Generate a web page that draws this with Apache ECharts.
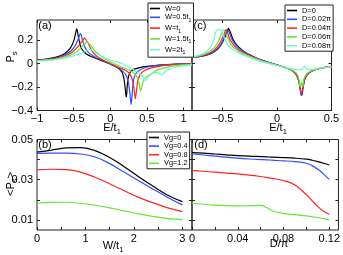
<!DOCTYPE html>
<html><head><meta charset="utf-8">
<script src="https://cdn.jsdelivr.net/npm/echarts@6/dist/echarts.min.js"></script>
<style>html,body{margin:0;padding:0;background:#fff}#c{width:343px;height:255px}</style>
</head><body><div id="c"></div>
<script>
// ---------- DATA ----------
// Panel (a): P_s vs E/t1 for several W
const namesA = ['W=0','W=0.5t_1','W=t_1','W=1.5t_1','W=2t_1'];
const a_W0 = [[-1,0.03],[-0.9,0.035],[-0.8,0.045],[-0.7,0.06],[-0.62,0.085],[-0.56,0.12],[-0.52,0.16],[-0.49,0.21],[-0.472,0.26],[-0.46,0.295],[-0.45,0.28],[-0.44,0.245],[-0.43,0.21],[-0.41,0.155],[-0.39,0.125],[-0.36,0.1],[-0.32,0.078],[-0.27,0.062],[-0.2,0.045],[-0.1,0.02],[0,-0.005],[0.07,-0.025],[0.12,-0.045],[0.16,-0.075],[0.185,-0.125],[0.2,-0.19],[0.212,-0.265],[0.22,-0.285],[0.23,-0.2],[0.245,-0.12],[0.27,-0.075],[0.32,-0.05],[0.4,-0.035],[0.5,-0.025],[0.7,-0.012],[0.9,-0.005],[1.115,0]];
const a_W05 = [[-1,0.028],[-0.9,0.032],[-0.8,0.04],[-0.7,0.055],[-0.6,0.08],[-0.53,0.11],[-0.48,0.15],[-0.45,0.19],[-0.425,0.23],[-0.408,0.255],[-0.395,0.24],[-0.38,0.2],[-0.36,0.16],[-0.33,0.12],[-0.3,0.095],[-0.25,0.07],[-0.18,0.045],[-0.1,0.025],[0,-0.005],[0.1,-0.035],[0.17,-0.065],[0.22,-0.105],[0.25,-0.17],[0.27,-0.27],[0.284,-0.35],[0.296,-0.28],[0.31,-0.17],[0.33,-0.11],[0.37,-0.07],[0.45,-0.04],[0.55,-0.025],[0.7,-0.013],[0.9,-0.006],[1.115,0]];
const a_W1 = [[-1,0.027],[-0.9,0.03],[-0.8,0.038],[-0.7,0.05],[-0.6,0.07],[-0.52,0.095],[-0.46,0.13],[-0.41,0.17],[-0.37,0.2],[-0.35,0.215],[-0.33,0.2],[-0.3,0.17],[-0.27,0.13],[-0.23,0.09],[-0.18,0.06],[-0.1,0.03],[0,0.0],[0.1,-0.03],[0.2,-0.055],[0.26,-0.085],[0.3,-0.135],[0.325,-0.22],[0.342,-0.3],[0.356,-0.24],[0.375,-0.15],[0.41,-0.09],[0.47,-0.06],[0.55,-0.04],[0.7,-0.02],[0.9,-0.008],[1.115,0]];
const a_W15 = [[-1,0.025],[-0.9,0.028],[-0.8,0.033],[-0.7,0.042],[-0.6,0.058],[-0.5,0.085],[-0.42,0.12],[-0.36,0.16],[-0.32,0.182],[-0.29,0.17],[-0.25,0.14],[-0.2,0.1],[-0.12,0.06],[-0.05,0.03],[0.05,0.0],[0.15,-0.03],[0.25,-0.055],[0.32,-0.08],[0.37,-0.12],[0.395,-0.18],[0.413,-0.235],[0.428,-0.21],[0.45,-0.15],[0.5,-0.11],[0.55,-0.095],[0.6,-0.07],[0.65,-0.052],[0.75,-0.035],[0.9,-0.018],[1.115,-0.005]];
const a_W2 = [[-1,0.022],[-0.9,0.025],[-0.8,0.03],[-0.7,0.038],[-0.6,0.05],[-0.5,0.065],[-0.45,0.075],[-0.4,0.085],[-0.35,0.1],[-0.3,0.115],[-0.26,0.12],[-0.22,0.1],[-0.15,0.07],[-0.08,0.05],[0,0.03],[0.08,0.015],[0.16,0.0],[0.24,-0.025],[0.32,-0.055],[0.4,-0.085],[0.45,-0.12],[0.48,-0.145],[0.51,-0.12],[0.56,-0.09],[0.62,-0.075],[0.66,-0.08],[0.7,-0.1],[0.74,-0.075],[0.8,-0.05],[0.9,-0.03],[1.0,-0.02],[1.115,-0.012]];

// Panel (c): P_s vs E/t1 for several D
const namesC = ['D=0','D=0.02π','D=0.04π','D=0.06π','D=0.08π'];
const c_D0 = [[-0.78,0.05],[-0.7,0.06],[-0.62,0.08],[-0.56,0.11],[-0.52,0.15],[-0.49,0.2],[-0.465,0.25],[-0.445,0.298],[-0.43,0.27],[-0.41,0.22],[-0.38,0.17],[-0.34,0.13],[-0.3,0.1],[-0.24,0.07],[-0.16,0.035],[-0.08,0.01],[0,-0.012],[0.08,-0.035],[0.14,-0.06],[0.18,-0.1],[0.205,-0.17],[0.22,-0.26],[0.228,-0.27],[0.24,-0.2],[0.26,-0.12],[0.3,-0.075],[0.36,-0.05],[0.43,-0.035],[0.5,-0.027]];
const c_D002 = [[-0.78,0.05],[-0.7,0.062],[-0.62,0.082],[-0.56,0.115],[-0.52,0.155],[-0.49,0.21],[-0.47,0.26],[-0.455,0.292],[-0.44,0.27],[-0.42,0.22],[-0.39,0.17],[-0.35,0.13],[-0.3,0.097],[-0.24,0.068],[-0.16,0.034],[-0.08,0.01],[0,-0.012],[0.08,-0.035],[0.14,-0.06],[0.18,-0.1],[0.205,-0.17],[0.218,-0.25],[0.226,-0.268],[0.238,-0.2],[0.26,-0.12],[0.3,-0.075],[0.36,-0.05],[0.43,-0.035],[0.5,-0.027]];
const c_D004 = [[-0.78,0.052],[-0.7,0.065],[-0.62,0.088],[-0.57,0.12],[-0.53,0.165],[-0.5,0.22],[-0.48,0.265],[-0.468,0.287],[-0.455,0.265],[-0.435,0.21],[-0.4,0.16],[-0.36,0.12],[-0.3,0.09],[-0.24,0.063],[-0.16,0.032],[-0.08,0.008],[0,-0.013],[0.08,-0.036],[0.14,-0.06],[0.18,-0.095],[0.205,-0.16],[0.218,-0.24],[0.226,-0.258],[0.238,-0.19],[0.26,-0.115],[0.3,-0.072],[0.36,-0.05],[0.43,-0.035],[0.5,-0.027]];
const c_D006 = [[-0.78,0.053],[-0.7,0.068],[-0.63,0.095],[-0.58,0.13],[-0.54,0.185],[-0.51,0.25],[-0.49,0.287],[-0.475,0.27],[-0.455,0.22],[-0.42,0.16],[-0.38,0.12],[-0.32,0.088],[-0.25,0.06],[-0.16,0.03],[-0.08,0.006],[0,-0.015],[0.08,-0.037],[0.14,-0.058],[0.18,-0.085],[0.2,-0.13],[0.213,-0.2],[0.225,-0.16],[0.235,-0.2],[0.248,-0.13],[0.27,-0.09],[0.3,-0.07],[0.36,-0.05],[0.43,-0.035],[0.5,-0.028]];
const c_D008 = [[-0.78,0.055],[-0.7,0.075],[-0.65,0.1],[-0.61,0.14],[-0.58,0.2],[-0.565,0.26],[-0.55,0.285],[-0.53,0.29],[-0.51,0.285],[-0.495,0.25],[-0.475,0.2],[-0.45,0.155],[-0.41,0.12],[-0.35,0.09],[-0.28,0.06],[-0.2,0.033],[-0.1,0.005],[0,-0.015],[0.08,-0.033],[0.15,-0.048],[0.2,-0.055],[0.23,-0.05],[0.245,-0.035],[0.255,-0.022],[0.265,-0.035],[0.28,-0.05],[0.33,-0.05],[0.4,-0.038],[0.5,-0.028]];

// Panel (b): <P_s> vs W/t1 for several Vg
const namesB = ['Vg=0','Vg=0.4','Vg=0.8','Vg=1.2'];
const bW = [0,0.3,0.6,0.9,1.2,1.5,1.8,2.1,2.4,2.7,3.0];
const b_V0  = [0.0437,0.0447,0.0458,0.046,0.0445,0.041,0.0365,0.0315,0.0267,0.0223,0.0191];
const b_V04 = [0.0431,0.0432,0.0432,0.0428,0.0413,0.038,0.0338,0.0295,0.0253,0.0212,0.0175];
const b_V08 = [0.0349,0.0352,0.035,0.0338,0.0312,0.028,0.0245,0.0212,0.0185,0.016,0.0141];
const b_V12 = [0.0183,0.0187,0.0188,0.0183,0.0173,0.016,0.0145,0.013,0.0117,0.0107,0.0102];

// Panel (d): <P_s> vs D/pi for several Vg
const dD = [0,0.01,0.02,0.03,0.04,0.05,0.06,0.065,0.07,0.08,0.09,0.1,0.105,0.11,0.115,0.12];
const d_V0  = [0.0435,0.0432,0.0428,0.0424,0.042,0.0417,0.0415,0.0414,0.0412,0.041,0.0407,0.0402,0.0397,0.039,0.0382,0.0373];
const d_V04 = [0.0428,0.0423,0.0417,0.0412,0.0407,0.0403,0.04,0.0399,0.0397,0.0394,0.039,0.0382,0.037,0.0352,0.0328,0.0302];
const d_V08 = [0.0345,0.0342,0.0338,0.0333,0.0329,0.0323,0.0316,0.0312,0.0307,0.0296,0.0274,0.0225,0.0195,0.0166,0.0143,0.0128];
const d_V12 = [0.0183,0.0178,0.0174,0.0171,0.017,0.0171,0.0172,0.0162,0.0146,0.0133,0.0126,0.012,0.0116,0.0112,0.0107,0.0099];

// ticks
const aXTicks = [-1,-0.5,0,0.5,1];
const cXTicks = [-0.5,0,0.5];
const topYTicks = [-0.4,-0.2,0,0.2];
const bXTicks = [0,0.5,1,1.5,2,2.5,3];
const bXLabels = [0,1,2,3];
const dXTicks = [0,0.02,0.04,0.06,0.08,0.1,0.12];
const dXLabels = [0,0.04,0.08,0.12];
const botYTicks = [0.01,0.02,0.03,0.04,0.05];
const botYLabels = [0.01,0.03,0.05];

// ---------- STYLE / BUILD ----------
const colors5 = ['#000000','#2f4fff','#ff2323','#66e632','#70f7cc'];
const FONT = 'Liberation Sans, Arial, sans-serif';
const fmt = v => String(v).replace('-', '\u2212');
const zip = (xs, ys) => xs.map((x, i) => [x, ys[i]]);

function axis(grid, min, max, pos, ticks, labels, isX) {
  return {
    type: 'value', gridIndex: grid, min: min, max: max, position: pos,
    axisLine: {show: false, onZero: false},
    splitLine: {show: false},
    axisTick: {show: true, inside: true, length: 3, customValues: ticks, lineStyle: {color: '#222', width: 1}},
    axisLabel: labels ? {show: true, customValues: labels, formatter: fmt, color: '#000',
      fontFamily: FONT, fontSize: 11, margin: isX ? 3 : 4} : {show: false}
  };
}

const grids = [
  {left: 37, top: 20, width: 155, height: 90.5},
  {left: 192, top: 20, width: 139.5, height: 90.5},
  {left: 37, top: 139.5, width: 155, height: 90.5},
  {left: 192, top: 139.5, width: 147, height: 90.5}
].map(g => Object.assign(g, {show: true, borderColor: '#222', borderWidth: 1, backgroundColor: 'transparent'}));

const xAxes = [
  axis(0, -1, 1.115, 'bottom', aXTicks, aXTicks, true),
  axis(1, -0.78, 0.5, 'bottom', cXTicks, cXTicks, true),
  axis(2, 0, 3.2, 'bottom', bXTicks, bXLabels, true),
  axis(3, 0, 0.128, 'bottom', dXTicks, dXLabels, true),
  axis(0, -1, 1.115, 'top', aXTicks, null, true),
  axis(1, -0.78, 0.5, 'top', cXTicks, null, true),
  axis(2, 0, 3.2, 'top', bXTicks, null, true),
  axis(3, 0, 0.128, 'top', dXTicks, null, true)
];
const yAxes = [
  axis(0, -0.4, 0.37, 'left', topYTicks, topYTicks, false),
  axis(1, -0.4, 0.37, 'left', topYTicks, null, false),
  axis(2, 0.005, 0.05, 'left', botYTicks, botYLabels, false),
  axis(3, 0.005, 0.05, 'left', botYTicks, null, false),
  axis(0, -0.4, 0.37, 'right', topYTicks, null, false),
  axis(1, -0.4, 0.37, 'right', topYTicks, null, false),
  axis(2, 0.005, 0.05, 'right', botYTicks, null, false),
  axis(3, 0.005, 0.05, 'right', botYTicks, null, false)
];

function line(name, idx, data, color, smooth) {
  return {type: 'line', name: name, xAxisIndex: idx, yAxisIndex: idx, data: data,
    showSymbol: false, symbol: 'none', smooth: smooth, color: color,
    lineStyle: {width: 1.2, color: color}, animation: false, z: 3};
}
const seriesA = [a_W0, a_W05, a_W1, a_W15, a_W2].map((d, i) => line(namesA[i], 0, d, colors5[i], 0.25));
const seriesC = [c_D0, c_D002, c_D004, c_D006, c_D008].map((d, i) => line(namesC[i], 1, d, colors5[i], 0.25));
const seriesB = [b_V0, b_V04, b_V08, b_V12].map((d, i) => line(namesB[i], 2, zip(bW, d), colors5[i], 0.4));
const seriesD = [d_V0, d_V04, d_V08, d_V12].map((d, i) => line(namesB[i] + ' ', 3, zip(dD, d), colors5[i], 0.4));

const rich = {
  n: {fontSize: 7.4, fontFamily: FONT, color: '#000', lineHeight: 11, verticalAlign: 'middle'},
  s: {fontSize: 5.2, fontFamily: FONT, color: '#000', lineHeight: 11, verticalAlign: 'bottom'}
};
const legFmt = name => {
  const p = name.trim().split('_');
  return '{n|' + p[0] + '}' + (p[1] ? '{s|' + p[1] + '}' : '');
};
function legend(names, left, top, gap, pad) {
  return {data: names, orient: 'vertical', left: left, top: top, itemGap: gap,
    itemWidth: 10, itemHeight: 1.6, icon: 'rect', padding: pad,
    backgroundColor: '#fff', borderColor: '#222', borderWidth: 1, borderRadius: 0,
    formatter: legFmt, textStyle: {rich: rich, fontSize: 7.4, fontFamily: FONT},
    selectedMode: false, z: 10};
}

const axRich = {
  n: {fontSize: 11, fontFamily: FONT, color: '#000', lineHeight: 15, verticalAlign: 'middle'},
  s: {fontSize: 7.5, fontFamily: FONT, color: '#000', lineHeight: 15, verticalAlign: 'bottom'}
};
function gtext(text, x, y, rot) {
  return {type: 'text', x: x, y: y, rotation: rot || 0, z: 20,
    style: {text: text, rich: axRich, font: '11px ' + FONT, fill: '#000', align: 'center', verticalAlign: 'middle'}};
}
const graphics = [
  gtext('{n|E/t}{s|1}', 112, 128),
  gtext('{n|E/t}{s|1}', 278, 128),
  gtext('{n|W/t}{s|1}', 113, 246),
  gtext('{n|D/\u03c0}', 279, 244),
  gtext('{n|P}{s|s}', 11, 57, Math.PI / 2),
  gtext('{n|<P}{s|s}{n|>}', 11, 184, Math.PI / 2),
  gtext('{n|(a)}', 45, 26),
  gtext('{n|(b)}', 45, 145),
  gtext('{n|(c)}', 200, 26),
  gtext('{n|(d)}', 201, 145)
];

const chart = echarts.init(document.getElementById('c'), null, {renderer: 'canvas'});
chart.setOption({
  animation: false,
  backgroundColor: '#fff',
  grid: grids,
  xAxis: xAxes,
  yAxis: yAxes,
  legend: [
    legend(namesA, 148, 3, 1.8, [2, 2, 2, 2]),
    legend(namesC, 285, 5, 1.8, [2, 2, 2, 2]),
    legend(namesB, 147, 132, 1.6, [2, 2, 2, 2])
  ],
  graphic: graphics,
  series: [].concat(seriesA, seriesC, seriesB, seriesD)
});
</script></body></html>
